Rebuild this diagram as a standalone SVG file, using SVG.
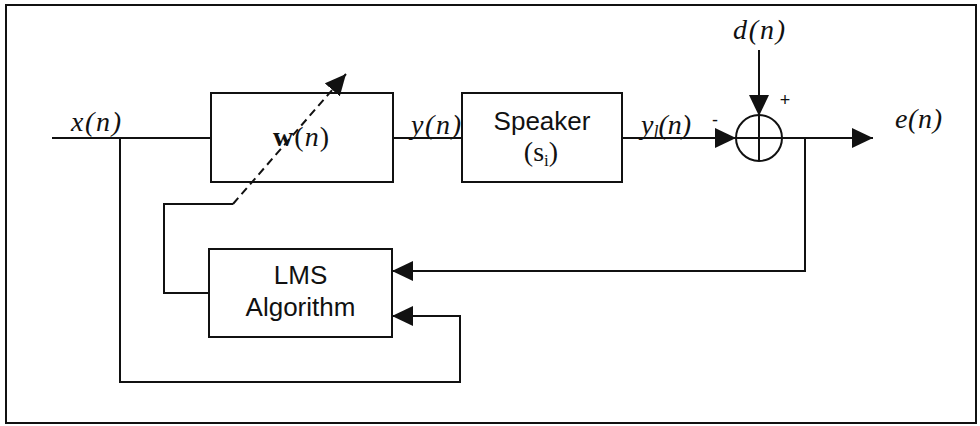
<svg xmlns="http://www.w3.org/2000/svg" width="980" height="426" viewBox="0 0 980 426">
  <style>
    .ln { fill: none; stroke: #111; stroke-width: 2; }
    .dash { stroke-dasharray: 8 5; }
    .box { fill: #fff; stroke: #111; stroke-width: 2; }
    .math { font-family: "Liberation Serif", "Times New Roman", serif; font-size: 28px; fill: #111; }
    .it { font-style: italic; }
    .sans { font-family: "Liberation Sans", Arial, sans-serif; font-size: 26px; fill: #111; }
    .sign { font-family: "Liberation Sans", Arial, sans-serif; font-size: 18px; fill: #111; }
  </style>
  <defs>
    <marker id="arrow" viewBox="0 0 21 20" refX="21" refY="10" markerWidth="21" markerHeight="20" markerUnits="userSpaceOnUse" orient="auto">
      <path d="M0,0 L21,10 L0,20 Z" fill="#111"/>
    </marker>
  </defs>

  <rect width="980" height="426" fill="#fff"/>
  <!-- outer frame -->
  <rect x="6" y="5" width="970" height="418" class="ln"/>

  <!-- connectors -->
  <g id="connectors">
    <path class="ln" d="M52,138 H211"/>
    <path class="ln" d="M120,138 V382 H460 V316 H392" marker-end="url(#arrow)"/>
    <path class="ln" d="M393,138 H462"/>
    <path class="ln" d="M622,138 H736" marker-end="url(#arrow)"/>
    <path class="ln" d="M759,50 V116" marker-end="url(#arrow)"/>
    <path class="ln" d="M782,138 H873" marker-end="url(#arrow)"/>
    <path class="ln" d="M805,138 V271 H392" marker-end="url(#arrow)"/>
    <path class="ln" d="M209,293 H164 V204 H233"/>
    <path class="ln dash" d="M233,204 L346,74" marker-end="url(#arrow)"/>
  </g>

  <!-- adaptive filter -->
  <g id="filter">
    <rect class="box" x="211" y="93" width="182" height="89" fill-opacity="0"/>
    <text class="math" x="273" y="146" textLength="56" lengthAdjust="spacing"><tspan font-weight="bold">w</tspan>(<tspan class="it">n</tspan>)</text>
  </g>

  <!-- speaker path -->
  <g id="speaker">
    <rect class="box" x="462" y="93" width="160" height="89"/>
    <text class="sans" x="542" y="130" text-anchor="middle">Speaker</text>
    <text class="math" x="541" y="161" text-anchor="middle" font-size="26">(s<tspan font-size="17" dy="5">i</tspan><tspan dy="-5">)</tspan></text>
  </g>

  <!-- LMS update block -->
  <g id="lms">
    <rect class="box" x="209" y="249" width="183" height="88"/>
    <text class="sans" x="300.5" y="284" text-anchor="middle">LMS</text>
    <text class="sans" x="300.5" y="316" text-anchor="middle">Algorithm</text>
  </g>

  <!-- summing junction -->
  <g id="sum">
    <circle cx="759" cy="138" r="23" class="ln"/>
    <path class="ln" d="M736,138 H782 M759,115 V161"/>
    <text class="sign" x="785" y="106" text-anchor="middle">+</text>
    <text class="sign" x="715" y="126" text-anchor="middle">-</text>
  </g>

  <!-- signal labels -->
  <g id="labels">
    <text class="math it" x="71" y="131" textLength="50" lengthAdjust="spacing">x(n)</text>
    <text class="math it" x="411" y="134" textLength="50" lengthAdjust="spacing">y(n)</text>
    <text class="math it" x="641" y="134">y<tspan font-size="18" dy="4">l</tspan><tspan dy="-4">(n)</tspan></text>
    <text class="math it" x="733" y="39" textLength="52" lengthAdjust="spacing">d(n)</text>
    <text class="math it" x="895" y="128" textLength="47" lengthAdjust="spacing">e(n)</text>
  </g>
</svg>
